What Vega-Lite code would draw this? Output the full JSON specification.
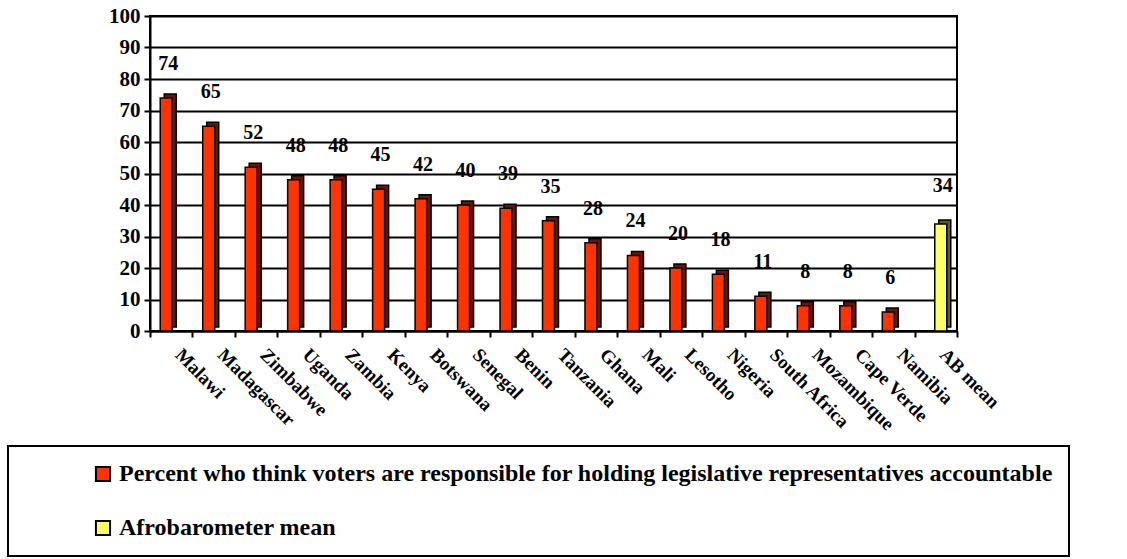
{
  "$schema": "https://vega.github.io/schema/vega-lite/v6.json",
  "width": 807,
  "height": 315,
  "autosize": {"type": "none"},
  "padding": {"left": 150, "top": 16, "right": 170, "bottom": 228},
  "background": "white",
  "data": {
    "values": [
      {"country": "Malawi", "value": 74, "series": "Percent who think voters are responsible for holding legislative representatives accountable"},
      {"country": "Madagascar", "value": 65, "series": "Percent who think voters are responsible for holding legislative representatives accountable"},
      {"country": "Zimbabwe", "value": 52, "series": "Percent who think voters are responsible for holding legislative representatives accountable"},
      {"country": "Uganda", "value": 48, "series": "Percent who think voters are responsible for holding legislative representatives accountable"},
      {"country": "Zambia", "value": 48, "series": "Percent who think voters are responsible for holding legislative representatives accountable"},
      {"country": "Kenya", "value": 45, "series": "Percent who think voters are responsible for holding legislative representatives accountable"},
      {"country": "Botswana", "value": 42, "series": "Percent who think voters are responsible for holding legislative representatives accountable"},
      {"country": "Senegal", "value": 40, "series": "Percent who think voters are responsible for holding legislative representatives accountable"},
      {"country": "Benin", "value": 39, "series": "Percent who think voters are responsible for holding legislative representatives accountable"},
      {"country": "Tanzania", "value": 35, "series": "Percent who think voters are responsible for holding legislative representatives accountable"},
      {"country": "Ghana", "value": 28, "series": "Percent who think voters are responsible for holding legislative representatives accountable"},
      {"country": "Mali", "value": 24, "series": "Percent who think voters are responsible for holding legislative representatives accountable"},
      {"country": "Lesotho", "value": 20, "series": "Percent who think voters are responsible for holding legislative representatives accountable"},
      {"country": "Nigeria", "value": 18, "series": "Percent who think voters are responsible for holding legislative representatives accountable"},
      {"country": "South Africa", "value": 11, "series": "Percent who think voters are responsible for holding legislative representatives accountable"},
      {"country": "Mozambique", "value": 8, "series": "Percent who think voters are responsible for holding legislative representatives accountable"},
      {"country": "Cape Verde", "value": 8, "series": "Percent who think voters are responsible for holding legislative representatives accountable"},
      {"country": "Namibia", "value": 6, "series": "Percent who think voters are responsible for holding legislative representatives accountable"},
      {"country": "AB mean", "value": 34, "series": "Afrobarometer mean"}
    ]
  },
  "config": {
    "font": "Liberation Serif",
    "view": {"stroke": "black", "strokeWidth": 2},
    "axis": {
      "labelFont": "Liberation Serif",
      "labelFontWeight": "bold",
      "labelColor": "black",
      "domainColor": "black",
      "domainWidth": 2,
      "tickColor": "black",
      "tickWidth": 2,
      "gridColor": "black",
      "gridWidth": 2,
      "gridOpacity": 1,
      "title": null
    },
    "legend": {
      "labelFont": "Liberation Serif",
      "labelFontWeight": "bold",
      "labelFontSize": 24,
      "labelColor": "black",
      "labelLimit": 1200,
      "labelOffset": 4,
      "symbolType": "square",
      "symbolSize": 200,
      "symbolStrokeColor": "black",
      "symbolStrokeWidth": 2,
      "symbolOpacity": 1,
      "rowPadding": 30,
      "padding": 16,
      "strokeColor": "black",
      "strokeWidth": 2
    }
  },
  "encoding": {
    "x": {
      "field": "country",
      "type": "nominal",
      "sort": null,
      "scale": {
        "domain": ["Malawi", "Madagascar", "Zimbabwe", "Uganda", "Zambia", "Kenya", "Botswana", "Senegal", "Benin", "Tanzania", "Ghana", "Mali", "Lesotho", "Nigeria", "South Africa", "Mozambique", "Cape Verde", "Namibia", "AB mean"],
        "paddingInner": 0,
        "paddingOuter": 0
      },
      "axis": {
        "labelAngle": 45,
        "labelAlign": "left",
        "labelBaseline": "top",
        "labelFontSize": 19,
        "labelPadding": 8,
        "labelOffset": 13,
        "tickSize": 6,
        "tickBand": "extent",
        "grid": false,
        "labelLimit": 300
      }
    },
    "y": {
      "field": "value",
      "type": "quantitative",
      "scale": {"domain": [0, 100]},
      "axis": {"values": [0, 10, 20, 30, 40, 50, 60, 70, 80, 90, 100], "labelFontSize": 21, "tickSize": 6, "labelPadding": 4, "labelOverlap": false, "grid": true}
    }
  },
  "layer": [
    {
      "transform": [{"filter": "datum.series !== 'Afrobarometer mean'"}],
      "mark": {"type": "bar", "width": 12, "xOffset": -1, "yOffset": -4, "stroke": "black", "strokeWidth": 1.5, "color": "#6e1500"}
    },
    {
      "transform": [{"filter": "datum.series === 'Afrobarometer mean'"}],
      "mark": {"type": "bar", "width": 12, "xOffset": 9, "yOffset": -4, "stroke": "black", "strokeWidth": 1.5, "color": "#5e5e1c"}
    },
    {
      "transform": [{"filter": "datum.series !== 'Afrobarometer mean'"}],
      "mark": {"type": "bar", "width": 12, "xOffset": -5, "stroke": "black", "strokeWidth": 1.5},
      "encoding": {
        "color": {
          "field": "series",
          "type": "nominal",
          "scale": {
            "domain": ["Percent who think voters are responsible for holding legislative representatives accountable", "Afrobarometer mean"],
            "range": ["#ff3300", "#ffff66"]
          },
          "legend": {
            "orient": "none",
            "legendX": -142,
            "legendY": 430,
            "title": " ",
            "titleOrient": "left",
            "titlePadding": 67,
            "direction": "vertical"
          }
        }
      }
    },
    {
      "transform": [{"filter": "datum.series === 'Afrobarometer mean'"}],
      "mark": {"type": "bar", "width": 12, "xOffset": 5, "stroke": "black", "strokeWidth": 1.5},
      "encoding": {
        "color": {"field": "series", "type": "nominal"}
      }
    },
    {
      "transform": [{"filter": "datum.series !== 'Afrobarometer mean'"}],
      "mark": {"type": "text", "baseline": "bottom", "dy": -24, "xOffset": -3, "font": "Liberation Serif", "fontWeight": "bold", "fontSize": 20, "color": "black"},
      "encoding": {
        "text": {"field": "value", "type": "quantitative"}
      }
    },
    {
      "transform": [{"filter": "datum.series === 'Afrobarometer mean'"}],
      "mark": {"type": "text", "baseline": "bottom", "dy": -28, "xOffset": 7, "font": "Liberation Serif", "fontWeight": "bold", "fontSize": 20, "color": "black"},
      "encoding": {
        "text": {"field": "value", "type": "quantitative"}
      }
    }
  ]
}
